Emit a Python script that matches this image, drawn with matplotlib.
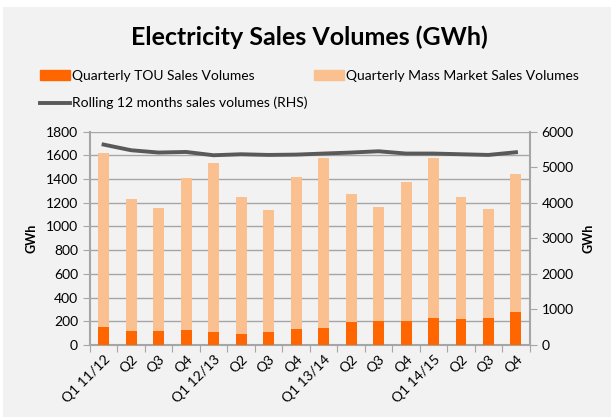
import matplotlib; matplotlib.use("Agg")
import matplotlib.pyplot as plt
from matplotlib.patches import Patch, Rectangle
from matplotlib.lines import Line2D

quarters = ["Q1 11/12", "Q2", "Q3", "Q4", "Q1 12/13", "Q2", "Q3", "Q4",
            "Q1 13/14", "Q2", "Q3", "Q4", "Q1 14/15", "Q2", "Q3", "Q4"]
tou = [154, 121, 121, 123, 112, 95, 112, 132, 146, 197, 202, 203, 230, 222, 230, 281]
total = [1624, 1233, 1155, 1410, 1540, 1253, 1135, 1419, 1576, 1273, 1161, 1377, 1576, 1248, 1147, 1444]
mass = [t - u for t, u in zip(total, tou)]
rolling = [5640, 5480, 5415, 5432, 5339, 5367, 5348, 5357, 5387, 5415, 5451, 5387, 5387, 5367, 5348, 5424]

BG = "#f2f2f2"; DARK = "#ff6600"; LIGHT = "#fac090"; LINE = "#595959"; AX = "#a6a6a6"
plt.rcParams["font.family"] = ["Lato", "DejaVu Sans"]

W, H = 611, 417
fig = plt.figure(figsize=(W / 100, H / 100), dpi=100, facecolor="white")
fig.patches.append(Rectangle((3 / W, 0), 1, 1 - 7 / H, transform=fig.transFigure,
                             facecolor=BG, edgecolor="none", zorder=-10))
ax = fig.add_axes([0.147, 0.173, 0.720, 0.511], facecolor=BG)
x = range(len(quarters))
ax.bar(x, tou, width=0.4, color=DARK, zorder=3)
ax.bar(x, mass, width=0.4, bottom=tou, color=LIGHT, zorder=3)
ax.set_ylim(0, 1800); ax.set_yticks(range(0, 1801, 200))
ax.set_xlim(-0.5, len(quarters) - 0.5)
ax.yaxis.grid(True, color=AX, lw=1, zorder=0)
ax.set_xticks([i - 0.5 for i in range(len(quarters) + 1)])
ax.set_xticklabels([])
ax.set_xticks(list(x), minor=True)
ax.set_xticklabels(quarters, minor=True, rotation=45, ha="right", rotation_mode="anchor", fontsize=10)
ax.tick_params(axis="x", which="minor", length=0, pad=6)
ax.tick_params(axis="x", which="major", length=5, color=AX)
ax.tick_params(axis="y", length=5, color=AX, labelsize=10)
ax.set_ylabel("GWh", fontweight="bold", fontsize=9, labelpad=6)
for s in ["top", "right"]: ax.spines[s].set_visible(False)
for s in ["left", "bottom"]: ax.spines[s].set_color(AX); ax.spines[s].set_linewidth(1.5)

ax2 = ax.twinx()
ax2.plot(list(x), rolling, color=LINE, lw=2.8, zorder=4)
ax2.set_ylim(0, 6000); ax2.set_yticks(range(0, 6001, 1000))
ax2.tick_params(axis="y", length=5, color=AX, labelsize=10)
ax2.set_ylabel("GWh", fontweight="bold", fontsize=9, labelpad=6)
for s in ["top", "left", "bottom"]: ax2.spines[s].set_visible(False)
ax2.spines["right"].set_color(AX); ax2.spines["right"].set_linewidth(1.5)

fig.text(309 / W, 1 - 37 / H, "Electricity Sales Volumes (GWh)", ha="center", va="center",
         fontsize=18, fontweight="bold")
items = [(Patch(color=DARK, label="Quarterly TOU Sales Volumes"), 40, 76),
         (Patch(color=LIGHT, label="Quarterly Mass Market Sales Volumes"), 314, 76),
         (Line2D([0], [0], color=LINE, lw=2.8, label="Rolling 12 months sales volumes (RHS)"), 40, 103)]
for h, px, py in items:
    fig.legend(handles=[h], loc="center left", bbox_to_anchor=(px / W, 1 - py / H),
               frameon=False, fontsize=10, handlelength=2.15, handleheight=0.65, handletextpad=0.15,
               borderaxespad=0, borderpad=0)
fig.savefig("out.png", dpi=100, facecolor="white")
